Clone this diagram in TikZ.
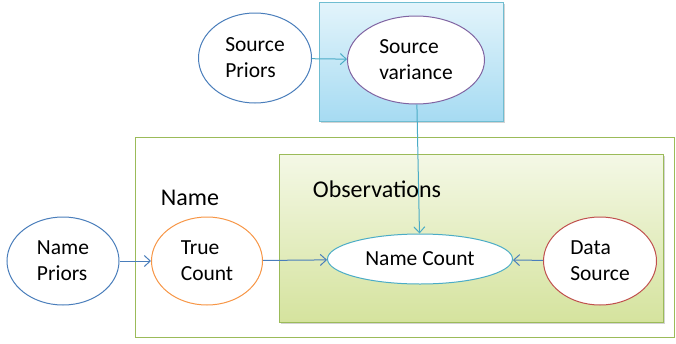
\documentclass[tikz,border=0pt]{standalone}
\usepackage{fontspec}
\setmainfont{Carlito}
\usepackage{tikz}
\usetikzlibrary{shapes,arrows.meta,shadows}
\definecolor{lineblue}{HTML}{4A7EBB}
\definecolor{lineteal}{HTML}{4BACC6}
\definecolor{linepurple}{HTML}{8064A2}
\definecolor{lineorange}{HTML}{F79646}
\definecolor{linered}{HTML}{C0504D}
\definecolor{linegreen}{HTML}{9BBB59}
\definecolor{skytop}{HTML}{E3F4FB}
\definecolor{skybottom}{HTML}{A6DBF2}
\definecolor{leaftop}{HTML}{F4F8E6}
\definecolor{leafbottom}{HTML}{D5E39E}
\tikzstyle{var} = [draw, ellipse, fill=white, line width=1pt, align=left, inner sep=0pt]
\tikzstyle{plate} = [draw=linegreen, line width=1pt]
\tikzstyle{platelbl} = [font=\fontsize{24}{28}\selectfont]
\tikzstyle{link} = [line width=1pt, -{Straight Barb[length=6pt,width=11pt]}]

\begin{document}
\begin{tikzpicture}[x=1pt,y=-1pt,font=\fontsize{21.5}{26}\selectfont]
\useasboundingbox (0,0) rectangle (676,343);
\draw [plate] (135,137) rectangle (674,337);
\draw [draw=lineteal!80, line width=1pt, top color=skytop, bottom color=skybottom,
  drop shadow={opacity=0.35,shadow xshift=2pt,shadow yshift=-2pt}] (319,2) rectangle (503,121);
\draw [plate, top color=leaftop, bottom color=leafbottom,
  drop shadow={opacity=0.35,shadow xshift=2pt,shadow yshift=-2pt}] (279,154) rectangle (663,322);
\node [platelbl] (namelbl) at (190,198) {Name};
\node [platelbl] (obslbl) at (377,189) {Observations};
\node [var, draw=lineblue, minimum width=113, minimum height=90] (sprior) at (255,58) {Source\\Priors};
\node [var, draw=linepurple, minimum width=137, minimum height=88] (svar) at (416,60) {Source\\variance};
\node [var, draw=lineblue, minimum width=112, minimum height=88] (nprior) at (63,261) {Name\\Priors};
\node [var, draw=lineorange, minimum width=111, minimum height=88] (tcount) at (207,261) {True\\Count};
\node [var, draw=lineteal, minimum width=185, minimum height=50] (ncount) at (420,259) {Name Count};
\node [var, draw=linered, minimum width=113, minimum height=88] (dsource) at (600,261) {Data\\Source};
\draw [link, lineteal] (sprior) -- (svar);
\draw [link, lineteal] (svar) -- (ncount);
\draw [link, lineblue] (nprior) -- (tcount);
\draw [link, lineblue] (tcount) -- (ncount);
\draw [link, lineblue] (dsource) -- (ncount);
\end{tikzpicture}
\end{document}
